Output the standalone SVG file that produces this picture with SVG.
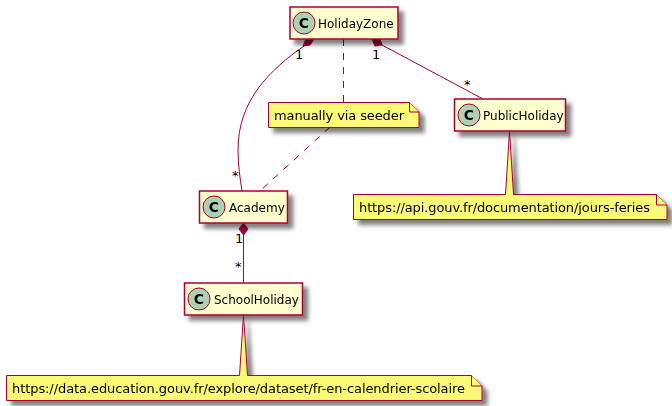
<svg xmlns="http://www.w3.org/2000/svg" width="672" height="406" viewBox="0 0 672 406">
<defs>
<filter id="sh" x="-10%" y="-30%" width="125%" height="170%"><feGaussianBlur in="SourceAlpha" stdDeviation="2.200"/><feOffset dx="4.500" dy="4.500"/><feComponentTransfer result="b"><feFuncA type="linear" slope="0.5"/></feComponentTransfer><feMerge><feMergeNode in="b"/><feMergeNode in="SourceGraphic"/></feMerge></filter>
<g id="spot"><circle r="11" fill="#ADD1B2" stroke="#A80036"/><text class="c" y="5" text-anchor="middle">C</text></g>
</defs>
<style>
text{font-family:"DejaVu Sans",sans-serif;font-size:13px;fill:#000}
.n{font-size:12px}
.c{font-weight:700;font-size:14px}
.box{fill:#FEFECE;stroke:#A80036;stroke-width:1.5}
.note{fill:#FBFB77;stroke:#A80036;stroke-width:1}
.l{fill:none;stroke:#A80036;stroke-width:1}
.d{stroke-dasharray:7 7}
.dia{fill:#A80036;stroke:#A80036}
</style>
<g id="connectors">
<path class="l" d="M304 46C270 70 238 100 238 150C238 165 240 178 242 191"/>
<path class="dia" d="M306 39L314 39L310 45L303 46Z"/>
<path class="l" d="M382 45L483 99"/>
<path class="dia" d="M372 39L380 39L382 45L375 46Z"/>
<path class="l d" d="M343.500 39L343.500 102"/>
<path class="l d" d="M330 127L260 191"/>
<path class="l" d="M243.500 235L243.500 283"/>
<path class="dia" d="M243.500 223L239 229L243.500 235L248 229Z"/>
</g>
<text x="295" y="59">1</text><text x="372" y="59">1</text>
<text x="232" y="180">*</text><text x="464" y="89">*</text>
<text x="235" y="243">1</text><text x="235" y="271">*</text>
<g id="HolidayZone" filter="url(#sh)"><rect class="box" x="290" y="7" width="108" height="32"/><use href="#spot" x="304" y="23"/><text class="n" x="318" y="27.500">HolidayZone</text></g>
<g id="Academy" filter="url(#sh)"><rect class="box" x="199.500" y="191" width="88" height="32"/><use href="#spot" x="214" y="207"/><text class="n" x="229" y="211.500">Academy</text></g>
<g id="SchoolHoliday" filter="url(#sh)"><rect class="box" x="184.500" y="283" width="118" height="32"/><use href="#spot" x="199" y="299"/><text class="n" x="214" y="303.500">SchoolHoliday</text></g>
<g id="PublicHoliday" filter="url(#sh)"><rect class="box" x="454.500" y="99" width="111" height="32"/><use href="#spot" x="469" y="115"/><text class="n" x="483" y="119.500">PublicHoliday</text></g>
<g id="note-seeder" filter="url(#sh)"><path class="note" d="M268.500 102.500H409.500L419 112V127.500H268.500Z"/><path class="note" d="M409.500 102.500V112H419"/><text x="274" y="120" textLength="130">manually via seeder</text></g>
<g id="note-school" filter="url(#sh)"><path class="note" d="M6.500 375.500L239.500 375.500L243.500 315L247.500 375.500H471.500L482 386V400.500H6.500Z"/><path class="note" d="M471.500 375.500V386H482"/><text x="12" y="393" textLength="453">https://data.education.gouv.fr/explore/dataset/fr-en-calendrier-scolaire</text></g>
<g id="note-api" filter="url(#sh)"><path class="note" d="M353.500 194.500H505.500L509.500 131L513.500 194.500H656.500L667 205V219.500H353.500Z"/><path class="note" d="M656.500 194.500V205H667"/><text x="359" y="212" textLength="291">https://api.gouv.fr/documentation/jours-feries</text></g>
</svg>
